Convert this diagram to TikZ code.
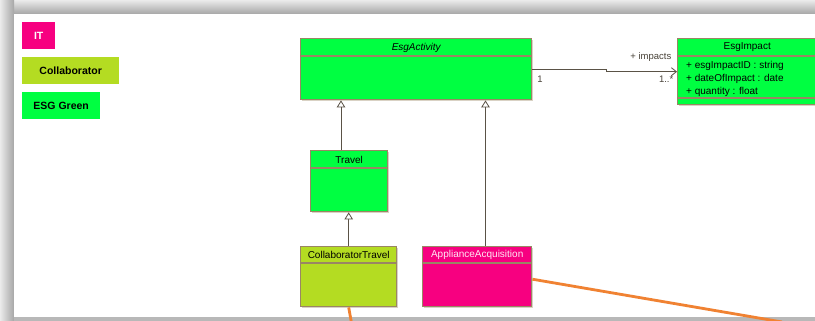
\documentclass[tikz,border=0pt]{standalone}
\usepackage{fontspec}
\setmainfont{Liberation Sans}
\usetikzlibrary{arrows.meta,calc,shadows}
\definecolor{itpink}{HTML}{F70080}
\definecolor{collab}{HTML}{B4DC22}
\definecolor{esg}{HTML}{00FF41}
\definecolor{clsborder}{HTML}{9A8664}
\definecolor{shadowc}{HTML}{D9D2C4}
\definecolor{conn}{HTML}{5A5246}
\definecolor{orangeln}{HTML}{F08232}
\definecolor{apptext}{HTML}{FFE8F4}
\begin{document}
\begin{tikzpicture}[x=1pt,y=-1pt,
  clsbox/.style={draw=clsborder, line width=1.4pt, anchor=north west, inner sep=0pt,
    drop shadow={shadow xshift=1.3pt, shadow yshift=-1.3pt, fill=shadowc, opacity=1}},
  sepline/.style={draw=clsborder, line width=1.2pt},
  ctitle/.style={font=\fontsize{10}{12}\selectfont, inner sep=0pt},
  attr/.style={font=\fontsize{10}{12}\selectfont, inner sep=0pt, anchor=west},
  alabel/.style={font=\fontsize{9.5}{11}\selectfont, inner sep=0pt, text=conn!80!black},
  legend/.style={anchor=north west, inner sep=0pt, font=\fontsize{10.5}{12}\selectfont\bfseries},
  inh/.style={draw=conn, line width=0.8pt, -{Triangle[open, length=7pt, width=8.5pt, fill=white]}},
  assoc/.style={draw=conn, line width=0.8pt, -{Straight Barb[length=5pt, width=8pt]}},
  orangeline/.style={draw=orangeln, line width=2.8pt}]
\useasboundingbox (0,0) rectangle (815,321);
% window frame
\shade[top color=black!8, bottom color=black!35] (0,0) rectangle (815,14);
\shade[left color=black!8, right color=black!35] (0,0) rectangle (14,321);
\fill[white] (14,14) rectangle (815,317);
\fill[black!28] (14,317) rectangle (815,321);

% legend
\node[legend, fill=itpink, text=white, minimum width=33pt, minimum height=27pt] (lit) at (22,22) {IT};
\node[legend, fill=collab, minimum width=97pt, minimum height=27pt] (lcol) at (22,57) {Collaborator};
\node[legend, fill=esg, minimum width=78pt, minimum height=27pt] (lesg) at (22,92) {ESG Green};

% EsgActivity
\node[clsbox, fill=esg, minimum width=231pt, minimum height=61pt] (act) at (300,38) {};
\draw[sepline] ($(act.north west)+(0,18)$) -- ($(act.north east)+(0,18)$);
\node[ctitle, font=\fontsize{10}{12}\selectfont\itshape] (actt) at ($(act.north)+(0,9.5)$) {EsgActivity};

% EsgImpact
\node[clsbox, fill=esg, minimum width=139pt, minimum height=66pt] (imp) at (677,38) {};
\draw[sepline] ($(imp.north west)+(0,18)$) -- ($(imp.north east)+(0,18)$);
\draw[sepline] ($(imp.north west)+(0,60)$) -- ($(imp.north east)+(0,60)$);
\node[ctitle] (impt) at ($(imp.north)+(0,9.5)$) {EsgImpact};
\node[attr] (a1) at (686,66) {+ esgImpactID : string};
\node[attr] (a2) at (686,79) {+ dateOfImpact : date};
\node[attr] (a3) at (686,92) {+ quantity : float};

% Travel
\node[clsbox, fill=esg, minimum width=77pt, minimum height=61pt] (trav) at (310,150) {};
\draw[sepline] ($(trav.north west)+(0,18)$) -- ($(trav.north east)+(0,18)$);
\node[ctitle] (travt) at ($(trav.north)+(0,9.5)$) {Travel};

% CollaboratorTravel
\node[clsbox, fill=collab, minimum width=96pt, minimum height=60pt] (ct) at (300,246) {};
\draw[sepline] ($(ct.north west)+(0,17)$) -- ($(ct.north east)+(0,17)$);
\node[ctitle] (ctt) at ($(ct.north)+(0,9)$) {CollaboratorTravel};

% ApplianceAcquisition
\node[clsbox, fill=itpink, minimum width=109pt, minimum height=60pt] (app) at (422,246) {};
\draw[sepline] ($(app.north west)+(0,17)$) -- ($(app.north east)+(0,17)$);
\node[ctitle, text=apptext] (appt) at ($(app.north)+(0,9)$) {ApplianceAcquisition};

% generalizations
\coordinate (tr1) at ([xshift=31pt]trav.north west);
\draw[inh] (tr1) -- (tr1 |- act.south);
\draw[inh] (ct.north) -- (ct.north |- trav.south);
\coordinate (ap1) at ([xshift=63.5pt]app.north west);
\draw[inh] (ap1) -- (ap1 |- act.south);

% association
\coordinate (asj) at ($(act.east)+(74,0)$);
\draw[assoc] (act.east) -- (asj) -- (asj |- imp.west) -- (imp.west);
\node[alabel, anchor=east] (limp) at (671.5,57) {+ impacts};
\node[alabel] (l1) at (540,79) {1};
\node[alabel, anchor=east] (l2) at (673.5,79) {1..*};

% orange links
\coordinate (o1) at (351.5,323);
\coordinate (o2) at (782,322);
\draw[orangeline] (ct.south) -- (o1);
\draw[orangeline] ([yshift=-2.5pt]app.east) -- (o2);
\end{tikzpicture}
\end{document}
